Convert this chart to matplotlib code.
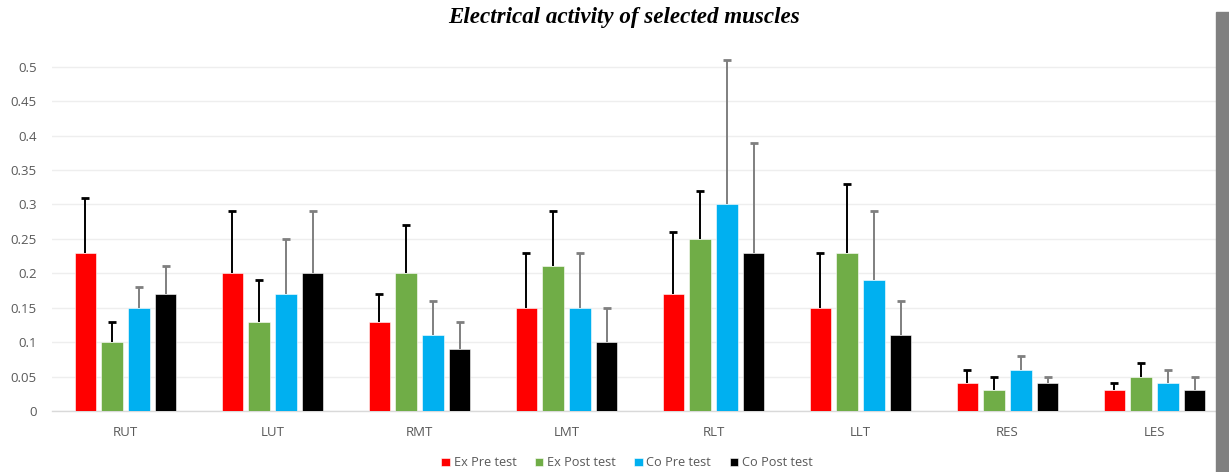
import numpy as np
import matplotlib.pyplot as plt
from matplotlib.patches import Rectangle

# Datos
muscles = ['RUT', 'LUT', 'RMT', 'LMT', 'RLT', 'LLT', 'RES', 'LES']
series = ['Ex Pre test', 'Ex Post test', 'Co Pre test', 'Co Post test']

ex_pre = [0.23, 0.20, 0.13, 0.15, 0.17, 0.15, 0.04, 0.03]
ex_post = [0.10, 0.13, 0.20, 0.21, 0.25, 0.23, 0.03, 0.05]
co_pre = [0.15, 0.17, 0.11, 0.15, 0.30, 0.19, 0.06, 0.04]
co_post = [0.17, 0.20, 0.09, 0.10, 0.23, 0.11, 0.04, 0.03]

ex_pre_sd = [0.08, 0.09, 0.04, 0.08, 0.09, 0.08, 0.02, 0.01]
ex_post_sd = [0.03, 0.06, 0.07, 0.08, 0.07, 0.10, 0.02, 0.02]
co_pre_sd = [0.03, 0.08, 0.05, 0.08, 0.21, 0.10, 0.02, 0.02]
co_post_sd = [0.04, 0.09, 0.04, 0.05, 0.16, 0.05, 0.01, 0.02]

values = [ex_pre, ex_post, co_pre, co_post]
errors = [ex_pre_sd, ex_post_sd, co_pre_sd, co_post_sd]
colors = ['#ff0000', '#70ad47', '#00b0f0', '#000000']
err_colors = ['#000000', '#000000', '#7f7f7f', '#7f7f7f']

W, H = 1229, 472
fig = plt.figure(figsize=(W / 100, H / 100), dpi=100)
ax = fig.add_axes([52 / W, 61 / H, 1176 / W, 380 / H])

x = np.arange(len(muscles))
pitch = 0.1815
width = 0.148
for i in range(4):
    pos = x + (i - 1.5) * pitch
    ax.bar(pos, values[i], width, color=colors[i], edgecolor='white',
           linewidth=0.4, label=series[i], zorder=3)
    eb = ax.errorbar(pos, values[i], yerr=[np.zeros(len(muscles)), errors[i]],
                     fmt='none', ecolor=err_colors[i], elinewidth=1.4,
                     capsize=2.6, capthick=2, zorder=4, clip_on=False)
    # solo la tapa de arriba
    eb[1][0].remove()

ax.set_xlim(-0.5, 7.5)
ax.set_ylim(0, 0.552)
ax.set_yticks(np.arange(0, 0.51, 0.05))
ax.set_yticklabels(['0', '0.05', '0.1', '0.15', '0.2', '0.25', '0.3',
                    '0.35', '0.4', '0.45', '0.5'])
ax.set_xticks(x)
ax.set_xticklabels(muscles)
ax.tick_params(length=0, colors='#595959', labelsize=9.5, pad=11)
for lab in ax.get_xticklabels() + ax.get_yticklabels():
    lab.set_family('Open Sans')
ax.grid(axis='y', color='#eeeeee', linewidth=1, zorder=0)
for s in ['top', 'right', 'left']:
    ax.spines[s].set_visible(False)
ax.spines['bottom'].set_color('#d9d9d9')
ax.spines['bottom'].set_linewidth(1)

fig.text(624 / W, 1 - 18 / H, 'Electrical activity of selected muscles',
         ha='center', va='center', fontsize=16.6, fontweight='bold',
         fontstyle='italic', family='Liberation Serif')

fig.legend(loc='center', bbox_to_anchor=(627 / W, 9 / H), ncol=4,
           frameon=False, handlelength=0.65, handleheight=0.65,
           handletextpad=0.3, columnspacing=1.45,
           prop={'family': 'Open Sans', 'size': 9.2}, labelcolor='#595959')

# barra gris a la derecha
fig.patches.append(Rectangle((1216 / W, 0), 13 / W, 460 / H,
                             transform=fig.transFigure, color='#808080',
                             zorder=10))

fig.savefig('out.png', dpi=100)
